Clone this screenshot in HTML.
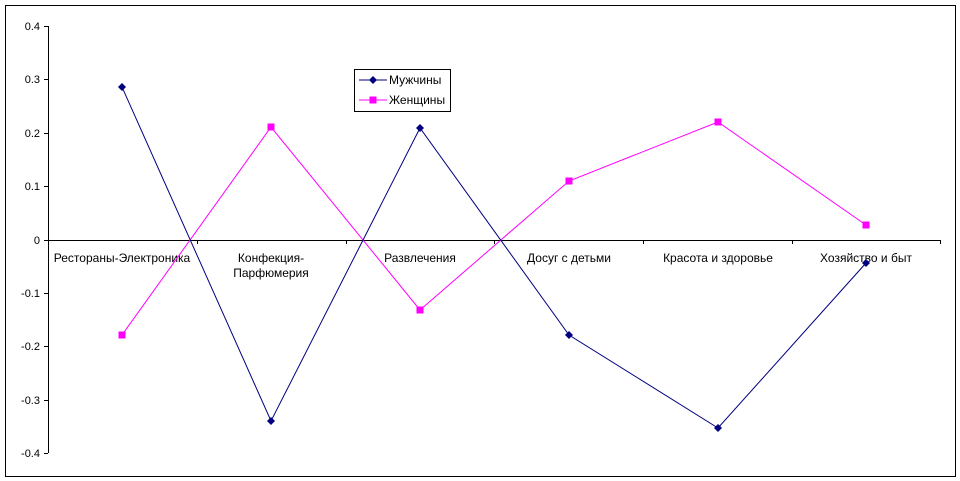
<!DOCTYPE html>
<html><head><meta charset="utf-8"><style>body{margin:0;background:#fff}svg{display:block}</style></head><body>
<svg width="960" height="481" xmlns="http://www.w3.org/2000/svg" font-family="Liberation Sans, sans-serif" font-size="12">
<rect x="5.5" y="5.5" width="950" height="471" fill="#fff" stroke="#000"/>
<g stroke="#000" fill="none">
<line x1="48.5" y1="26" x2="48.5" y2="453"/>
<line x1="44" y1="26.5" x2="48" y2="26.5"/><line x1="44" y1="79.5" x2="48" y2="79.5"/><line x1="44" y1="133.5" x2="48" y2="133.5"/><line x1="44" y1="186.5" x2="48" y2="186.5"/><line x1="44" y1="240.5" x2="48" y2="240.5"/><line x1="44" y1="293.5" x2="48" y2="293.5"/><line x1="44" y1="346.5" x2="48" y2="346.5"/><line x1="44" y1="400.5" x2="48" y2="400.5"/><line x1="44" y1="453.5" x2="48" y2="453.5"/>
<line x1="48" y1="240.5" x2="940" y2="240.5"/>
<line x1="197.5" y1="240" x2="197.5" y2="244"/><line x1="346.5" y1="240" x2="346.5" y2="244"/><line x1="494.5" y1="240" x2="494.5" y2="244"/><line x1="643.5" y1="240" x2="643.5" y2="244"/><line x1="792.5" y1="240" x2="792.5" y2="244"/><line x1="940.5" y1="240" x2="940.5" y2="244"/>
</g>
<g text-anchor="end" font-size="11">
<text x="40" y="30">0.4</text><text x="40" y="83">0.3</text><text x="40" y="137">0.2</text><text x="40" y="190">0.1</text><text x="40" y="244">0</text><text x="40" y="297">-0.1</text><text x="40" y="350">-0.2</text><text x="40" y="404">-0.3</text><text x="40" y="457">-0.4</text>
</g>
<g text-anchor="middle">
<text x="122" y="262">Рестораны-Электроника</text>
<text x="271" y="262">Конфекция-</text><text x="271" y="277">Парфюмерия</text>
<text x="420" y="262">Развлечения</text>
<text x="569" y="262">Досуг с детьми</text>
<text x="718" y="262">Красота и здоровье</text>
<text x="866" y="262">Хозяйство и быт</text>
</g>
<polyline fill="none" stroke="#ff00ff" points="122,335 271,127 420,310 569,181 718,122 866,225"/>
<polyline fill="none" stroke="#000080" points="122,87 271,421 420,128 569,335 718,428 866,263"/>
<g fill="#ff00ff">
<rect x="118.5" y="331.5" width="7" height="7"/><rect x="267.5" y="123.5" width="7" height="7"/><rect x="416.5" y="306.5" width="7" height="7"/><rect x="565.5" y="177.5" width="7" height="7"/><rect x="714.5" y="118.5" width="7" height="7"/><rect x="862.5" y="221.5" width="7" height="7"/>
</g>
<g fill="#000080">
<path d="M122 83l4 4-4 4-4-4z"/><path d="M271 417l4 4-4 4-4-4z"/><path d="M420 124l4 4-4 4-4-4z"/><path d="M569 331l4 4-4 4-4-4z"/><path d="M718 424l4 4-4 4-4-4z"/><path d="M866 259l4 4-4 4-4-4z"/>
</g>
<rect x="354.5" y="69.5" width="96" height="42" fill="#fff" stroke="#000"/>
<line x1="359" y1="80" x2="387" y2="80" stroke="#000080"/><path d="M373 76l4 4-4 4-4-4z" fill="#000080"/>
<line x1="359" y1="100" x2="387" y2="100" stroke="#ff00ff"/><rect x="369.5" y="96.5" width="7" height="7" fill="#ff00ff"/>
<text x="389" y="84">Мужчины</text><text x="389" y="104">Женщины</text>
</svg>
</body></html>
